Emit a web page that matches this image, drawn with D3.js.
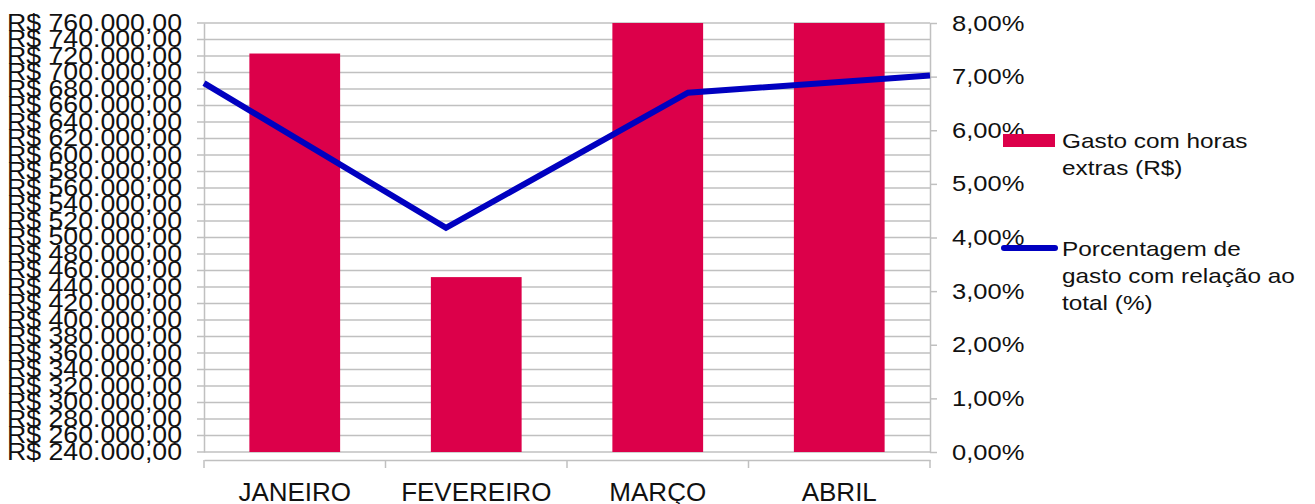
<!DOCTYPE html>
<html>
<head>
<meta charset="utf-8">
<script src="https://cdn.jsdelivr.net/npm/d3@7"></script>
<style>
  body { margin: 0; background: #fff; }
  text { font-family: "Liberation Sans", Arial, sans-serif; fill: #111; }
</style>
</head>
<body>
<svg></svg>
<script>
const meses = ['JANEIRO', 'FEVEREIRO', 'MARÇO', 'ABRIL'];
const gastoHorasExtras = [723000, 452000, 815000, 790000];
const porcentagemGasto = [0.0688, 0.0418, 0.0670, 0.0702];

const ticksReais = [240000, 260000, 280000, 300000, 320000, 340000, 360000, 380000, 400000,
  420000, 440000, 460000, 480000, 500000, 520000, 540000, 560000, 580000, 600000, 620000,
  640000, 660000, 680000, 700000, 720000, 740000, 760000];
const ticksPct = [0, 0.01, 0.02, 0.03, 0.04, 0.05, 0.06, 0.07, 0.08];

const legendaBarra = ['Gasto com horas', 'extras (R$)'];
const legendaLinha = ['Porcentagem de', 'gasto com relação ao', 'total (%)'];

const width = 1315;
const height = 504;
const plotLeft = 204, plotRight = 930, plotTop = 23, plotBottom = 452;
const stretch = 'scale(1.16,1)';

const barColor = '#dc004a';
const lineColor = '#0000c0';
const gridColor = '#c0c0c0';

const br = d3.formatLocale({
  decimal: ',', thousands: '.', grouping: [3], currency: ['R$ ', ''], percent: '%'
});

const svg = d3.select('svg')
  .attr('width', width)
  .attr('height', height);

const x = d3.scaleBand()
  .domain(meses)
  .range([plotLeft, plotRight])
  .paddingInner(0.5)
  .paddingOuter(0.25);

const xLine = d3.scalePoint()
  .domain(meses)
  .range([plotLeft, plotRight])
  .padding(0);

const y = d3.scaleLinear()
  .domain([240000, 760000])
  .range([plotBottom, plotTop]);

const yPct = d3.scaleLinear()
  .domain([0, 0.08])
  .range([plotBottom, plotTop]);

// gridlines
svg.append('g')
  .selectAll('line')
  .data(ticksReais)
  .enter().append('line')
    .attr('x1', plotLeft - 7)
    .attr('x2', plotRight)
    .attr('y1', d => y(d))
    .attr('y2', d => y(d))
    .attr('stroke', gridColor)
    .attr('stroke-width', 1.5);

// bars (clipped at the top like the original)
svg.append('clipPath').attr('id', 'plot')
  .append('rect')
    .attr('x', plotLeft).attr('y', plotTop)
    .attr('width', plotRight - plotLeft).attr('height', plotBottom - plotTop);

svg.append('g')
  .attr('clip-path', 'url(#plot)')
  .selectAll('rect')
  .data(gastoHorasExtras)
  .enter().append('rect')
    .attr('x', (d, i) => x(meses[i]))
    .attr('width', x.bandwidth())
    .attr('y', d => y(d))
    .attr('height', d => plotBottom - y(d))
    .attr('fill', barColor);

// left axis
const yAxis = svg.append('g')
  .attr('transform', `translate(${plotLeft},0)`)
  .call(d3.axisLeft(y)
    .tickValues(ticksReais)
    .tickFormat(br.format('$,.2f'))
    .tickSize(0)
    .tickPadding(19));
yAxis.select('.domain').attr('stroke', gridColor).attr('stroke-width', 1.5);
yAxis.selectAll('text')
  .attr('font-size', 23)
  .attr('fill', '#111')
  .attr('transform', stretch);

// right axis
const yAxisR = svg.append('g')
  .attr('transform', `translate(${plotRight},0)`)
  .call(d3.axisRight(yPct)
    .tickValues(ticksPct)
    .tickFormat(br.format('.2%'))
    .tickSize(7)
    .tickSizeOuter(0)
    .tickPadding(12));
yAxisR.select('.domain').attr('stroke', gridColor).attr('stroke-width', 1.5);
yAxisR.selectAll('line').attr('stroke', gridColor).attr('stroke-width', 1.5);
yAxisR.selectAll('text')
  .attr('font-size', 22)
  .attr('fill', '#111')
  .attr('transform', stretch);

// category axis, drawn a little below the plot
const xAxis = svg.append('g')
  .attr('transform', 'translate(0,460)')
  .call(d3.axisBottom(x)
    .tickSize(0)
    .tickPadding(0));
xAxis.select('.domain').attr('stroke', gridColor).attr('stroke-width', 1.5);
xAxis.selectAll('.tick line').remove();
xAxis.selectAll('text')
  .attr('font-size', 26)
  .attr('fill', '#111')
  .attr('dy', null)
  .attr('y', 41);

const bounds = [plotLeft].concat(meses.map(m => x(m) + x.bandwidth() * 1.5));
xAxis.selectAll('.sep')
  .data(bounds)
  .enter().append('line')
    .attr('class', 'sep')
    .attr('x1', d => d).attr('x2', d => d)
    .attr('y1', 0).attr('y2', 8)
    .attr('stroke', gridColor)
    .attr('stroke-width', 1.5);

// percentage line
const line = d3.line()
  .x((d, i) => xLine(meses[i]))
  .y(d => yPct(d));

svg.append('path')
  .datum(porcentagemGasto)
  .attr('d', line)
  .attr('fill', 'none')
  .attr('stroke', lineColor)
  .attr('stroke-width', 6);

// legend
const legend = svg.append('g');

legend.append('rect')
  .attr('x', 1003).attr('y', 134)
  .attr('width', 52).attr('height', 13)
  .attr('fill', barColor);

legend.append('line')
  .attr('x1', 1004).attr('x2', 1055)
  .attr('y1', 248).attr('y2', 248)
  .attr('stroke', lineColor)
  .attr('stroke-width', 6)
  .attr('stroke-linecap', 'round');

function legendText(lines, y0) {
  legend.append('g')
    .attr('transform', `translate(1062,${y0}) ${stretch}`)
    .selectAll('text')
    .data(lines)
    .enter().append('text')
      .attr('x', 0)
      .attr('y', (d, i) => i * 27)
      .attr('font-size', 21)
      .text(d => d);
}

legendText(legendaBarra, 148);
legendText(legendaLinha, 256);
</script>
</body>
</html>
